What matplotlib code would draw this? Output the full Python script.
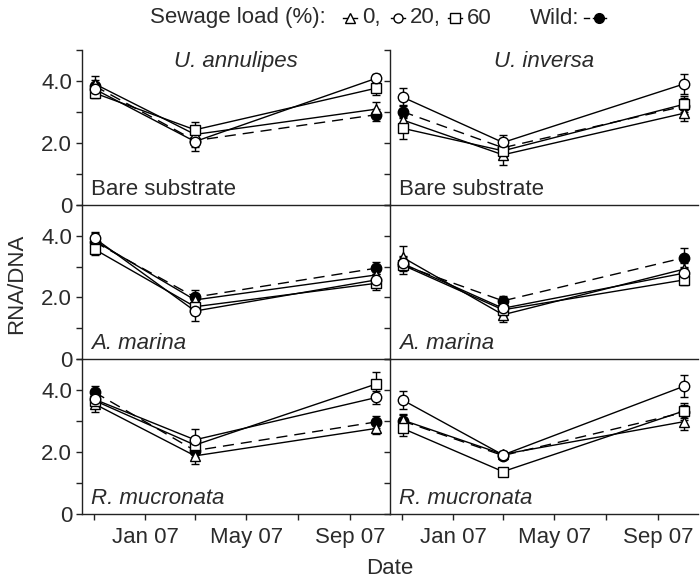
import matplotlib
matplotlib.use("Agg")
import matplotlib.pyplot as plt
import matplotlib.dates as mdates
from matplotlib.ticker import FixedLocator, FixedFormatter, FuncFormatter
from datetime import datetime

plt.rcParams['font.family'] = ['Liberation Sans', 'DejaVu Sans']
plt.rcParams['font.size'] = 16

# sampling dates
dates = [datetime(2006, 11, 2), datetime(2007, 3, 1), datetime(2007, 10, 2)]

species = ["U. annulipes", "U. inversa"]
habitats = ["Bare substrate", "A. marina", "R. mucronata"]
habitat_italic = [False, True, True]

# series order in every panel: sewage 0 %, 20 %, 60 %, wild
ua_bare_mean = [[3.92, 2.28, 3.10], [3.75, 2.05, 4.10], [3.62, 2.43, 3.78], [3.85, 2.08, 2.92]]
ua_bare_se = [[0.25, 0.22, 0.22], [0.20, 0.30, 0.15], [0.15, 0.25, 0.22], [0.20, 0.20, 0.20]]
ui_bare_mean = [[2.75, 1.62, 2.97], [3.49, 2.02, 3.92], [2.48, 1.75, 3.26], [3.02, 1.85, 3.20]]
ui_bare_se = [[0.25, 0.32, 0.25], [0.29, 0.25, 0.32], [0.35, 0.20, 0.25], [0.20, 0.20, 0.25]]

ua_marina_mean = [[3.84, 1.92, 2.73], [3.92, 1.56, 2.57], [3.56, 1.70, 2.46], [3.80, 2.01, 2.95]]
ua_marina_se = [[0.24, 0.20, 0.20], [0.20, 0.31, 0.18], [0.18, 0.25, 0.21], [0.20, 0.24, 0.19]]
ui_marina_mean = [[3.30, 1.44, 2.92], [3.10, 1.65, 2.79], [3.05, 1.60, 2.57], [3.05, 1.89, 3.29]]
ui_marina_se = [[0.37, 0.25, 0.20], [0.20, 0.20, 0.18], [0.29, 0.20, 0.18], [0.20, 0.15, 0.31]]

ua_rhizo_mean = [[3.55, 1.87, 2.76], [3.70, 2.39, 3.76], [3.66, 2.22, 4.20], [3.93, 2.04, 2.97]]
ua_rhizo_se = [[0.27, 0.26, 0.18], [0.20, 0.34, 0.22], [0.20, 0.25, 0.37], [0.20, 0.20, 0.20]]
ui_rhizo_mean = [[3.03, 1.92, 2.98], [3.68, 1.90, 4.13], [2.76, 1.36, 3.33], [3.00, 1.88, 3.28]]
ui_rhizo_se = [[0.20, 0.12, 0.27], [0.29, 0.10, 0.36], [0.25, 0.10, 0.25], [0.20, 0.12, 0.25]]

panel_means = [[ua_bare_mean, ui_bare_mean],
               [ua_marina_mean, ui_marina_mean],
               [ua_rhizo_mean, ui_rhizo_mean]]
panel_se = [[ua_bare_se, ui_bare_se],
            [ua_marina_se, ui_marina_se],
            [ua_rhizo_se, ui_rhizo_se]]

# marker, face colour, line style for 0 %, 20 %, 60 %, wild
styles = [("^", "white", "-"), ("o", "white", "-"), ("s", "white", "-"),
          ("o", "black", (0, (8, 5)))]
draw_order = [3, 0, 2, 1]

text_color = "#2b2b2b"

fig, axes = plt.subplots(3, 2, figsize=(7, 5.8), dpi=100, sharex=True, sharey=True)
fig.subplots_adjust(left=0.117, right=0.997, top=0.913, bottom=0.1145,
                    wspace=0, hspace=0)

month_loc = mdates.MonthLocator(bymonth=[11, 1, 3, 5, 7, 9])


def month_label(x, pos):
    d = mdates.num2date(x)
    return d.strftime("%b %y") if d.month in (1, 5, 9) else ""


for r in range(3):
    for c in range(2):
        ax = axes[r, c]
        ax.set_facecolor("none")
        means = panel_means[r][c]
        ses = panel_se[r][c]
        for k in draw_order:
            m, fc, ls = styles[k]
            ax.errorbar(dates, means[k], yerr=ses[k], marker=m, ms=7.5,
                        mfc=fc, mec="black", mew=1.0, color="black",
                        ls=ls, lw=1.0, elinewidth=1.0, capsize=3,
                        capthick=1.0, zorder=3 if k != 3 else 2)
        ax.set_ylim(0, 5)
        ax.set_xlim(datetime(2006, 10, 18), datetime(2007, 10, 18))
        for side in ("top", "right"):
            ax.spines[side].set_visible(False)
        for side in ("left", "bottom"):
            ax.spines[side].set_linewidth(1.0)
            ax.spines[side].set_color("#222222")
        ax.yaxis.set_major_locator(FixedLocator([0, 1, 2, 3, 4, 5]))
        ax.yaxis.set_major_formatter(FixedFormatter(["0", "", "2.0", "", "4.0", ""]))
        ax.tick_params(axis="both", direction="out", length=4, width=1.0,
                       colors="#222222", labelcolor=text_color, labelsize=16, pad=3)
        ax.tick_params(axis="x", pad=6)
        if c == 1:
            ax.tick_params(axis="y", labelleft=False)
        if r < 2:
            ax.tick_params(axis="x", bottom=False, labelbottom=False)

        ax.text(0.03, 0.065, habitats[r], transform=ax.transAxes,
                ha="left", va="baseline", color=text_color, fontsize=16,
                style="italic" if habitat_italic[r] else "normal")
        if r == 0:
            ax.text(0.5, 0.89, species[c], transform=ax.transAxes,
                    ha="center", va="baseline", color=text_color,
                    fontsize=16, style="italic")

axes[2, 0].xaxis.set_major_locator(month_loc)
axes[2, 0].xaxis.set_major_formatter(FuncFormatter(month_label))

fig.text(16.5 / 700, 1 - 284 / 580, "RNA/DNA", rotation=90, ha="center",
         va="center", color=text_color, fontsize=16)
fig.text(0.5 * (82 + 698) / 700, 1 - 569 / 580, "Date", ha="center",
         va="center", color=text_color, fontsize=16)

# legend strip across the top, laid out in pixel units
key = fig.add_axes([0, 0, 1, 1])
key.set_xlim(0, 700)
key.set_ylim(580, 0)
key.axis("off")
ly = 18
key.text(150, ly, "Sewage load (%):", ha="left", va="center",
         color=text_color, fontsize=16)
legend_items = [(350, "^", "0,"), (398, "o", "20,"), (455, "s", "60")]
for kx, mk, lab in legend_items:
    key.plot([kx - 7, kx + 7], [ly, ly], color="black", lw=1.0)
    key.plot([kx], [ly], marker=mk, ms=6.5, mfc="white", mec="black", mew=1.0)
    key.text(kx + 12, ly, lab, ha="left", va="center", color=text_color, fontsize=16)
key.text(579, ly, "Wild:", ha="right", va="center", color=text_color, fontsize=16)
key.plot([584, 589], [ly, ly], color="black", lw=1.0)
key.plot([593, 606], [ly, ly], color="black", lw=1.0)
key.plot([599], [ly], marker="o", ms=7, mfc="black", mec="black")

fig.savefig("out.png", dpi=100)
